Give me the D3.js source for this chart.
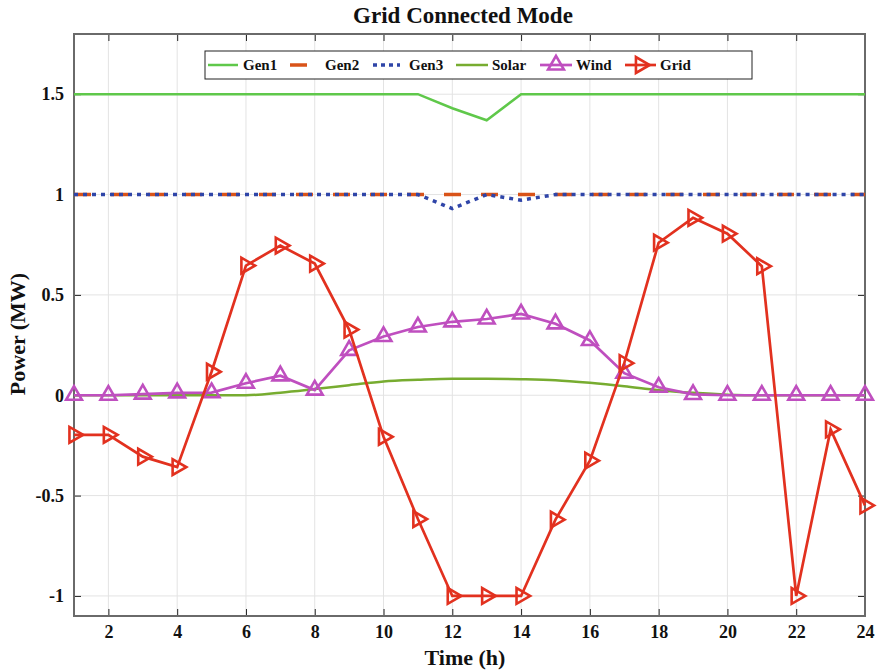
<!DOCTYPE html>
<html><head><meta charset="utf-8">
<script src="https://cdn.jsdelivr.net/npm/d3@7"></script>
<style>body{margin:0;background:#fff}svg{display:block}text{font-family:"Liberation Serif","Times New Roman",serif;font-weight:bold}</style>
</head><body><svg id="c" width="878" height="670"></svg>
<script>
const hours = d3.range(1, 25);
const gen1  = [1.5,1.5,1.5,1.5,1.5,1.5,1.5,1.5,1.5,1.5,1.5,1.43,1.37,1.5,1.5,1.5,1.5,1.5,1.5,1.5,1.5,1.5,1.5,1.5];
const gen2  = [1,1,1,1,1,1,1,1,1,1,1,1,1,1,1,1,1,1,1,1,1,1,1,1];
const gen3  = [1,1,1,1,1,1,1,1,1,1,1,0.93,1.0,0.972,1,1,1,1,1,1,1,1,1,1];
const solar = [0,0,0,0,0,0,0.013,0.031,0.05,0.069,0.077,0.082,0.082,0.08,0.075,0.062,0.045,0.025,0.012,0.003,0,0,0,0];
const wind  = [0,0,0.006,0.012,0.013,0.06,0.097,0.026,0.224,0.293,0.34,0.366,0.38,0.405,0.356,0.273,0.11,0.04,0.004,0,0,0,0,0];
const grid  = [-0.197,-0.197,-0.306,-0.358,0.117,0.646,0.746,0.656,0.327,-0.207,-0.617,-1,-1,-1,-0.62,-0.326,0.16,0.76,0.884,0.805,0.643,-1,-0.17,-0.549];
const xTicks = [2,4,6,8,10,12,14,16,18,20,22,24];
const yTicks = [-1,-0.5,0,0.5,1,1.5];
const yTickLabels = ["-1","-0.5","0","0.5","1","1.5"];
const seriesNames = ["Gen1","Gen2","Gen3","Solar","Wind","Grid"];

const svg = d3.select("#c");
const L = 74, R = 865, T = 34, B = 616;
const x = d3.scaleLinear().domain([1, 24]).range([L, R]);
const y = d3.scaleLinear().domain([-1.1, 1.8]).range([B, T]);

// grid lines
const g = svg.append("g");
g.selectAll(".vg").data(xTicks).enter().append("line")
  .attr("x1", d => x(d)).attr("x2", d => x(d)).attr("y1", T).attr("y2", B)
  .attr("stroke", "#e3e3e3").attr("stroke-width", 1);
g.selectAll(".hg").data(yTicks).enter().append("line")
  .attr("x1", L).attr("x2", R).attr("y1", d => y(d)).attr("y2", d => y(d))
  .attr("stroke", "#e3e3e3").attr("stroke-width", 1);

// axes (inward ticks, mirrored)
const tl = 7;
const ax = svg.append("g");
ax.append("g").attr("transform", `translate(0,${B})`)
  .call(d3.axisBottom(x).tickValues(xTicks).tickSize(-tl).tickPadding(9).tickFormat(d3.format("d")))
  .call(s => { s.select(".domain").remove(); s.selectAll("text").attr("font-size", 18).attr("fill", "#111"); s.selectAll("line").attr("stroke", "#222"); });
ax.append("g").attr("transform", `translate(0,${T})`)
  .call(d3.axisTop(x).tickValues(xTicks).tickSize(-tl).tickFormat(""))
  .call(s => { s.select(".domain").remove(); s.selectAll("line").attr("stroke", "#222"); });
ax.append("g").attr("transform", `translate(${L},0)`)
  .call(d3.axisLeft(y).tickValues(yTicks).tickSize(-tl).tickPadding(10).tickFormat((d, i) => yTickLabels[i]))
  .call(s => { s.select(".domain").remove(); s.selectAll("text").attr("font-size", 18).attr("fill", "#111"); s.selectAll("line").attr("stroke", "#222"); });
ax.append("g").attr("transform", `translate(${R},0)`)
  .call(d3.axisRight(y).tickValues(yTicks).tickSize(-tl).tickFormat(""))
  .call(s => { s.select(".domain").remove(); s.selectAll("line").attr("stroke", "#222"); });
svg.append("rect").attr("x", L).attr("y", T).attr("width", R - L).attr("height", B - T)
  .attr("fill", "none").attr("stroke", "#6a6a6a").attr("stroke-width", 2);

const line = d3.line().x((d, i) => x(hours[i])).y(d => y(d));
const smooth = d3.line().x((d, i) => x(hours[i])).y(d => y(d)).curve(d3.curveMonotoneX);

const cGen1 = "#5fc84a", cGen2 = "#d95319", cGen3 = "#2f45a8", cSolar = "#77ac30", cWind = "#bf4fbf", cGrid = "#e2311f";
const plot = svg.append("g");
plot.append("path").attr("d", line(gen1)).attr("fill", "none").attr("stroke", cGen1).attr("stroke-width", 2.5);
plot.append("path").attr("d", line(gen2)).attr("fill", "none").attr("stroke", cGen2).attr("stroke-width", 3.5).attr("stroke-dasharray", "17,20");
plot.append("path").attr("d", line(gen3)).attr("fill", "none").attr("stroke", cGen3).attr("stroke-width", 3.5).attr("stroke-dasharray", "4,5");
plot.append("path").attr("d", smooth(solar)).attr("fill", "none").attr("stroke", cSolar).attr("stroke-width", 2.5);
plot.append("path").attr("d", line(wind)).attr("fill", "none").attr("stroke", cWind).attr("stroke-width", 2.7);
const tri = d3.symbol().type(d3.symbolTriangle).size(108);
plot.selectAll(".wm").data(wind).enter().append("path")
  .attr("d", tri).attr("transform", (d, i) => `translate(${x(hours[i])},${y(d)})`)
  .attr("fill", "none").attr("stroke", cWind).attr("stroke-width", 2.6);
plot.append("path").attr("d", line(grid)).attr("fill", "none").attr("stroke", cGrid).attr("stroke-width", 2.7);
plot.selectAll(".gm").data(grid).enter().append("path")
  .attr("d", tri).attr("transform", (d, i) => `translate(${x(hours[i])},${y(d)}) rotate(90)`)
  .attr("fill", "none").attr("stroke", cGrid).attr("stroke-width", 2.6);

// legend
const lg = svg.append("g");
lg.append("rect").attr("x", 205).attr("y", 51).attr("width", 547).attr("height", 28)
  .attr("fill", "#fff").attr("stroke", "#222").attr("stroke-width", 1);
const items = [
  {x0: 208, x1: 238, tx: 243, c: cGen1, dash: null, w: 2.5, m: null},
  {x0: 290, x1: 307, tx: 325, c: cGen2, dash: null, w: 3.5, m: null},
  {x0: 373, x1: 400, tx: 409, c: cGen3, dash: "4,4", w: 3.5, m: null},
  {x0: 456, x1: 488, tx: 492, c: cSolar, dash: null, w: 2.5, m: null},
  {x0: 540, x1: 572, tx: 576, c: cWind, dash: null, w: 2.7, m: "up"},
  {x0: 625, x1: 656, tx: 660, c: cGrid, dash: null, w: 2.7, m: "right"}
];
const ly = 65;
items.forEach((it, i) => {
  const ln = lg.append("line").attr("x1", it.x0).attr("x2", it.x1).attr("y1", ly).attr("y2", ly)
    .attr("stroke", it.c).attr("stroke-width", it.w);
  if (it.dash) ln.attr("stroke-dasharray", it.dash);
  if (it.m) {
    lg.append("path").attr("d", tri)
      .attr("transform", `translate(${(it.x0 + it.x1) / 2},${ly})` + (it.m === "right" ? " rotate(90)" : ""))
      .attr("fill", "none").attr("stroke", it.c).attr("stroke-width", 2.6);
  }
  lg.append("text").attr("x", it.tx).attr("y", ly + 5).attr("font-size", 15).attr("fill", "#111").text(seriesNames[i]);
});

// titles
svg.append("text").attr("x", 463).attr("y", 23).attr("text-anchor", "middle").attr("font-size", 23).attr("fill", "#111").text("Grid Connected Mode");
svg.append("text").attr("x", 465).attr("y", 665).attr("text-anchor", "middle").attr("font-size", 22).attr("fill", "#111").text("Time (h)");
svg.append("text").attr("transform", `translate(25,334) rotate(-90)`).attr("text-anchor", "middle").attr("font-size", 22).attr("fill", "#111").text("Power (MW)");
</script></body></html>
